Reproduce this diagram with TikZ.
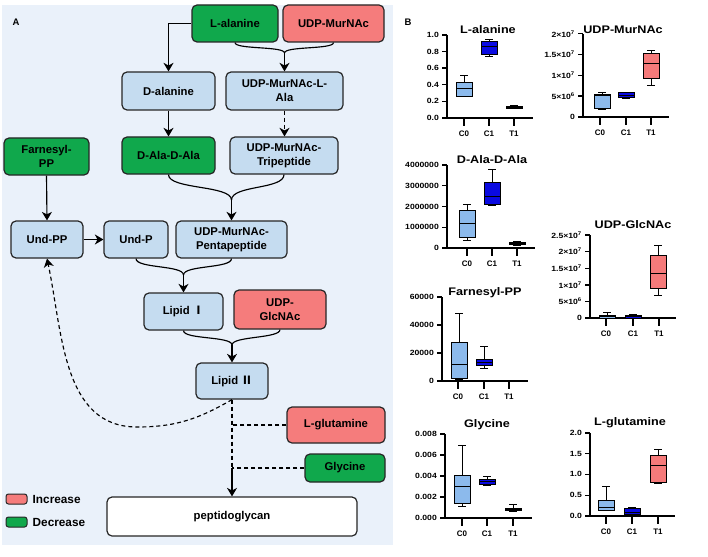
\documentclass[tikz,border=0pt]{standalone}
\usepackage{fontspec}
\setmainfont{Liberation Sans}
\newfontfamily\cjk{Noto Sans CJK SC}
\newfontfamily\plotfont[FakeStretch=1.15]{Liberation Sans}
\usetikzlibrary{arrows.meta}
\definecolor{panelbg}{RGB}{234,241,250}
\definecolor{nodeblue}{RGB}{197,220,240}
\definecolor{incr}{RGB}{245,124,124}
\definecolor{decr}{RGB}{16,168,76}
\definecolor{cz}{RGB}{140,186,236}
\definecolor{co}{RGB}{10,10,225}
\definecolor{ct}{RGB}{245,122,122}
\tikzset{
 box/.style={draw=black!85, line width=1.2pt, rounded corners=5pt, align=center, font=\bfseries\fontsize{11.3}{13.8}\selectfont, inner sep=0pt},
 bluebox/.style={box, fill=nodeblue},
 incbox/.style={box, fill=incr},
 decbox/.style={box, fill=decr},
 conn/.style={line width=1.15pt, black},
 arr/.style={conn, -{Stealth[length=8.5pt,width=10pt,inset=2.5pt]}},
 dconn/.style={conn, dash pattern=on 4pt off 3pt},
 ptitle/.style={font=\plotfont\bfseries\fontsize{11}{13}\selectfont, inner sep=0pt},
 tkl/.style={font=\plotfont\bfseries\fontsize{7.5}{9}\selectfont, inner sep=0pt},
 catl/.style={font=\bfseries\fontsize{8}{9}\selectfont, inner sep=0pt},
 swatch/.style={draw=black!85, line width=1pt, rounded corners=2.5pt, minimum width=21pt, minimum height=10pt, inner sep=0pt},
 legtxt/.style={anchor=west, font=\bfseries\fontsize{11.8}{13}\selectfont, inner sep=0pt},
}
\newcommand\bxp[9]{%
 \pgfmathsetmacro\bxpA{#4*#5-#3}%
 \pgfmathsetmacro\bxpB{#4*#6-#3}%
 \pgfmathsetmacro\bxpC{#4*#7-#3}%
 \pgfmathsetmacro\bxpD{#4*#8-#3}%
 \pgfmathsetmacro\bxpE{#4*#9-#3}%
 \draw[line width=0.8pt] (#2,\bxpA) -- (#2,\bxpB) (#2,\bxpD) -- (#2,\bxpE) (#2-4,\bxpA) -- (#2+4,\bxpA) (#2-4,\bxpE) -- (#2+4,\bxpE);
 \draw[line width=0.8pt, fill=#1] (#2-8,\bxpB) rectangle (#2+8,\bxpD);
 \draw[line width=0.8pt] (#2-8,\bxpC) -- (#2+8,\bxpC);
}
\newcommand\pax[4]{\draw[line width=1.6pt] (#1,-#3) -- (#1,-#2) -- (#4,-#2);}
\newcommand\ytk[3]{\draw[line width=1.4pt] (#1-5,-#2) -- (#1,-#2); \node[tkl, anchor=east] at (#1-8,-#2) {#3};}
\newcommand\xtk[3]{\draw[line width=1.6pt] (#1,-#2) -- (#1,-#2-8); \node[catl] at (#1,-#2-15.5) {#3};}
\begin{document}
\begin{tikzpicture}[x=1pt,y=1pt]
\path[use as bounding box, fill=white] (0,0) rectangle (708,-556);
\fill[panelbg] (2,-5) rectangle (393,-545);
\node[font=\bfseries\fontsize{9.5}{10}\selectfont, inner sep=0pt] (labA) at (16,-22) {A};
\node[font=\bfseries\fontsize{9.5}{10}\selectfont, inner sep=0pt] (labB) at (408,-22) {B};

% ---------- pathway ----------
\node[decbox, minimum width=86pt, minimum height=37pt] (lala) at (235,-23.5) {L-alanine};
\node[incbox, minimum width=101pt, minimum height=37pt] (udpm) at (333.5,-23.5) {UDP-MurNAc};
\node[bluebox, minimum width=93pt, minimum height=38pt] (dala) at (168.5,-91) {D-alanine};
\node[bluebox, minimum width=117pt, minimum height=38pt] (udpla) at (284.5,-91) {UDP-MurNAc-L-\\Ala};
\node[decbox, minimum width=93pt, minimum height=37pt] (dada) at (168.5,-155.5) {D-Ala-D-Ala};
\node[bluebox, minimum width=108pt, minimum height=37pt] (tri) at (284,-155.5) {UDP-MurNAc-\\Tripeptide};
\node[decbox, minimum width=85pt, minimum height=37pt] (farn) at (46.5,-156.5) {Farnesyl-\\PP};
\node[bluebox, minimum width=72pt, minimum height=37pt] (undpp) at (47,-239.5) {Und-PP};
\node[bluebox, minimum width=64pt, minimum height=37pt] (undp) at (136,-239.5) {Und-P};
\node[bluebox, minimum width=111pt, minimum height=37pt] (penta) at (231.5,-239.5) {UDP-MurNAc-\\Pentapeptide};
\node[bluebox, minimum width=79pt, minimum height=37pt] (lip1) at (183.5,-311.5) {Lipid {\cjk Ⅰ}};
\node[incbox, minimum width=92pt, minimum height=39pt] (glc) at (280,-309.5) {UDP-\\GlcNAc};
\node[bluebox, minimum width=72pt, minimum height=36pt] (lip2) at (232,-381) {Lipid {\cjk Ⅱ}};
\node[incbox, minimum width=98pt, minimum height=36pt] (lglu) at (336,-425) {L-glutamine};
\node[decbox, minimum width=80pt, minimum height=28pt] (gly) at (345,-468) {Glycine};
\node[box, fill=white, minimum width=250pt, minimum height=39pt] (pep) at (232,-516.5) {peptidoglycan};

\draw[arr] (lala.west) -| (dala.north);
\coordinate (m1) at (284.5,-53);
\draw[conn] (lala.south) .. controls +(0,-7) and +(0,7) .. (m1);
\draw[conn] (udpm.south) .. controls +(0,-7) and +(0,7) .. (m1);
\draw[arr] (m1) -- (udpla.north);
\draw[arr] (dala.south) -- (dada.north);
\draw[arr, dash pattern=on 4pt off 3pt] (udpla.south) -- (udpla.south |- tri.north);
\coordinate (m2) at (231.5,-200);
\draw[conn] (dada.south) .. controls +(0,-15) and +(0,15) .. (m2);
\draw[conn] (tri.south) .. controls +(0,-15) and +(0,15) .. (m2);
\draw[arr] (m2) -- (penta.north);
\draw[arr] (farn.south) -- (undpp.north);
\draw[arr] (undpp.east) -- (undp.west);
\coordinate (m3) at (183.5,-275);
\draw[conn] (undp.south) .. controls +(0,-10) and +(0,10) .. (m3);
\draw[conn] (penta.south) .. controls +(0,-10) and +(0,10) .. (m3);
\draw[arr] (m3) -- (lip1.north);
\coordinate (m4) at (232,-345);
\draw[conn] (lip1.south) .. controls +(0,-9) and +(0,9) .. (m4);
\draw[conn] (glc.south) .. controls +(0,-9) and +(0,9) .. (m4);
\draw[arr] (m4) -- (lip2.north);
\coordinate (dbot) at (137,-427);
\draw[dconn, -{Stealth[length=8.5pt,width=10pt,inset=2.5pt]}] (lip2.south) to[out=-150,in=0] (dbot) to[out=180,in=-78] (undpp.south);
\coordinate (gj) at (232,-468);
\draw[dconn] (lip2.south) -- (gj);
\draw[dconn] (lglu.west) -- (lglu.west -| gj);
\draw[dconn] (gly.west) -- (gj);
\draw[arr] (gj) -- (pep.north);

\node[swatch, fill=incr] (leginc) at (16.5,-499) {};
\node[legtxt] (legincT) at (32.5,-499) {Increase};
\node[swatch, fill=decr] (legdec) at (16.5,-522) {};
\node[legtxt] (legdecT) at (32.5,-522) {Decrease};

% ---------- plot 1: L-alanine ----------
\node[ptitle] (t1) at (488,-30) {L-alanine};
\pax{447}{118}{35}{533}
\ytk{447}{118}{0.0} \ytk{447}{101.4}{0.2} \ytk{447}{84.8}{0.4} \ytk{447}{68.2}{0.6} \ytk{447}{51.6}{0.8} \ytk{447}{35}{1.0}
\xtk{464}{118}{C0} \xtk{489}{118}{C1} \xtk{514}{118}{T1}
\bxp{cz}{464}{118}{83}{0.26}{0.26}{0.36}{0.43}{0.51}
\bxp{co}{489}{118}{83}{0.74}{0.77}{0.86}{0.92}{0.95}
\bxp{ct}{514}{118}{83}{0.11}{0.12}{0.13}{0.14}{0.15}

% ---------- plot 2: UDP-MurNAc ----------
\node[ptitle] (t2) at (623,-30) {UDP-MurNAc};
\pax{583}{117}{33.8}{669}
\ytk{583}{117}{0} \ytk{583}{96.2}{5×10\textsuperscript{6}} \ytk{583}{75.4}{1×10\textsuperscript{7}} \ytk{583}{54.6}{1.5×10\textsuperscript{7}} \ytk{583}{33.8}{2×10\textsuperscript{7}}
\xtk{600}{117}{C0} \xtk{626}{117}{C1} \xtk{651}{117}{T1}
\bxp{cz}{602}{117}{4.16}{1.8}{2.0}{5.2}{5.5}{6.0}
\bxp{co}{626}{117}{4.16}{4.5}{4.8}{5.2}{5.8}{6.0}
\bxp{ct}{651}{117}{4.16}{7.5}{9.3}{13}{15.2}{16}

% ---------- plot 3: D-Ala-D-Ala ----------
\node[ptitle] (t3) at (492,-160) {D-Ala-D-Ala};
\pax{447}{248}{165}{535}
\ytk{447}{248}{0} \ytk{447}{227.25}{1000000} \ytk{447}{206.5}{2000000} \ytk{447}{185.75}{3000000} \ytk{447}{165}{4000000}
\xtk{467}{248}{C0} \xtk{492}{248}{C1} \xtk{517}{248}{T1}
\bxp{cz}{467}{248}{20.75}{0.38}{0.5}{1.2}{1.8}{2.1}
\bxp{co}{492}{248}{20.75}{2.05}{2.1}{2.5}{3.15}{3.8}
\bxp{ct}{517}{248}{20.75}{0.13}{0.15}{0.2}{0.28}{0.3}

% ---------- plot 4: UDP-GlcNAc ----------
\node[ptitle] (t4) at (633,-225) {UDP-GlcNAc};
\pax{590}{318}{235}{676}
\ytk{590}{318}{0} \ytk{590}{301.4}{5×10\textsuperscript{6}} \ytk{590}{284.8}{1×10\textsuperscript{7}} \ytk{590}{268.2}{1.5×10\textsuperscript{7}} \ytk{590}{251.6}{2×10\textsuperscript{7}} \ytk{590}{235}{2.5×10\textsuperscript{7}}
\xtk{606}{318}{C0} \xtk{633}{318}{C1} \xtk{659}{318}{T1}
\bxp{cz}{607}{318}{3.32}{0}{0}{0.4}{0.8}{1.7}
\bxp{co}{633}{318}{3.32}{0}{0}{0.5}{0.8}{1.0}
\bxp{ct}{658}{318}{3.32}{6.8}{9}{13.5}{18.8}{22}

% ---------- plot 5: Farnesyl-PP ----------
\node[ptitle] (t5) at (485,-293) {Farnesyl-PP};
\pax{442}{381}{297}{528}
\ytk{442}{381}{0} \ytk{442}{353}{20000} \ytk{442}{325}{40000} \ytk{442}{297}{60000}
\xtk{458}{381}{C0} \xtk{484}{381}{C1} \xtk{509}{381}{T1}
\bxp{cz}{459}{381}{1.4}{0.8}{2}{12}{27.5}{48.5}
\bxp{co}{484}{381}{1.4}{9}{11}{13.5}{15.5}{24.5}

% ---------- plot 6: Glycine ----------
\node[ptitle] (t6) at (487,-425) {Glycine};
\pax{445}{518}{434}{532}
\ytk{445}{518}{0.000} \ytk{445}{497}{0.002} \ytk{445}{476}{0.004} \ytk{445}{455}{0.006} \ytk{445}{434}{0.008}
\xtk{462}{518}{C0} \xtk{487}{518}{C1} \xtk{513}{518}{T1}
\bxp{cz}{462}{518}{10.5}{1.1}{1.4}{3.0}{4.1}{6.9}
\bxp{co}{487}{518}{10.5}{3.1}{3.2}{3.5}{3.7}{4.0}
\bxp{ct}{513}{518}{10.5}{0.6}{0.7}{0.8}{0.95}{1.3}

% ---------- plot 7: L-glutamine ----------
\node[ptitle] (t7) at (630,-423) {L-glutamine};
\pax{590}{516}{432.8}{675}
\ytk{590}{516}{0.0} \ytk{590}{495.2}{0.5} \ytk{590}{474.4}{1.0} \ytk{590}{453.6}{1.5} \ytk{590}{432.8}{2.0}
\xtk{606}{516}{C0} \xtk{632}{516}{C1} \xtk{658}{516}{T1}
\bxp{cz}{606}{516}{41.6}{0.13}{0.13}{0.2}{0.37}{0.7}
\bxp{co}{632}{516}{41.6}{0.03}{0.03}{0.09}{0.18}{0.2}
\bxp{ct}{658}{516}{41.6}{0.78}{0.8}{1.22}{1.45}{1.6}
\end{tikzpicture}
\end{document}
